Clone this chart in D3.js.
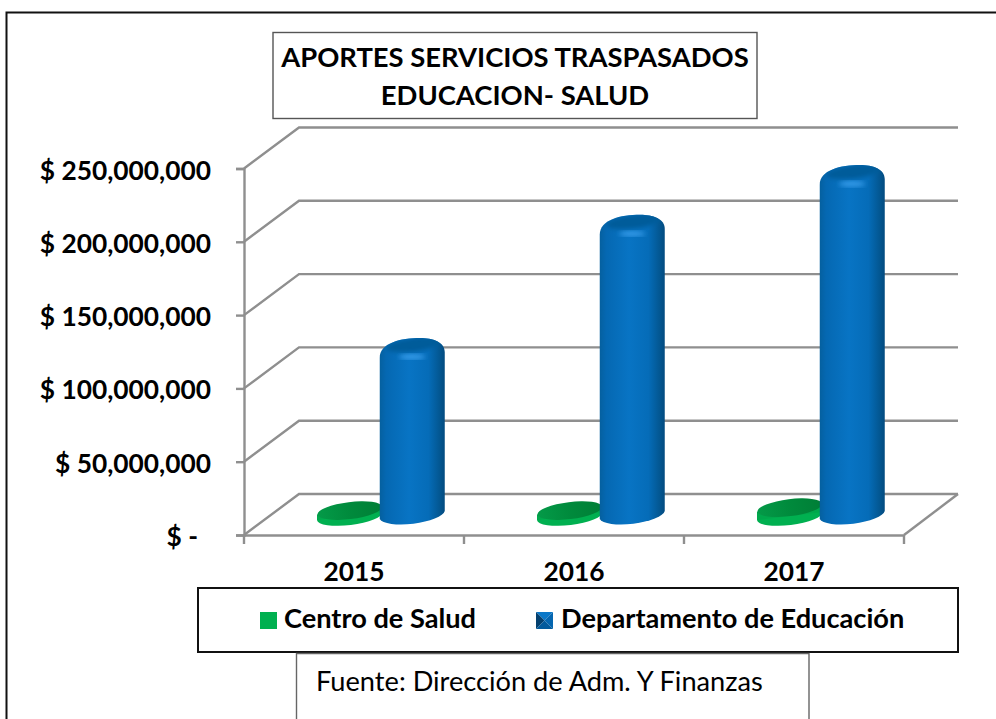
<!DOCTYPE html>
<html>
<head>
<meta charset="utf-8">
<script src="https://cdn.jsdelivr.net/npm/d3@7"></script>
<style>
  html, body { margin: 0; padding: 0; background: #fff; overflow: hidden; }
  text { font-family: Lato, "Open Sans", sans-serif; fill: #000; }
  .bold { font-weight: 700; }
</style>
</head>
<body>
<svg id="chart" width="996" height="719"></svg>
<script>
// values
var years = ['2015', '2016', '2017'];
var seriesNames = ['Centro de Salud', 'Departamento de Educación'];
var centroSalud = [3000000, 3000000, 5000000];
var educacion = [114000000, 198000000, 232000000];
var yTicks = [0, 50000000, 100000000, 150000000, 200000000, 250000000];
var titleLines = ['APORTES SERVICIOS TRASPASADOS', 'EDUCACION- SALUD'];
var sourceText = 'Fuente: Dirección de Adm. Y Finanzas';

var svg = d3.select('#chart');
var gray = '#8f8f8f';

// front plane of the 3d box and how far the back wall is pushed
var left = 244, right = 904, bottom = 535, top_ = 168.5;
var depthX = 55, depthY = -41;
var barDepthX = 27, barDepthY = -20;
var rx = 33, tilt = -7;

var y = d3.scaleLinear().domain([0, 250000000]).range([bottom, top_]);
var x = d3.scaleBand().domain(years).range([left, right]);
var xInner = d3.scaleBand().domain(seriesNames).range([47.5, 172.5]);

// Gradients and blur
var defs = svg.append('defs');

function hGradient(id, stops) {
  var g = defs.append('linearGradient').attr('id', id)
    .attr('x1', '0%').attr('x2', '100%').attr('y1', '0%').attr('y2', '0%');
  stops.forEach(function(s) {
    g.append('stop').attr('offset', s[0]).attr('stop-color', s[1]);
  });
}
hGradient('blueBody', [['0%', '#05609f'], ['10%', '#0568b2'], ['45%', '#0874c4'], ['75%', '#056cb8'], ['92%', '#035792'], ['100%', '#034b80']]);
hGradient('greenTop', [['0%', '#049a48'], ['50%', '#008a3c'], ['100%', '#007e36']]);

defs.append('filter').attr('id', 'soft').append('feGaussianBlur').attr('stdDeviation', 2);
defs.append('filter').attr('id', 'softer').append('feGaussianBlur').attr('stdDeviation', 2.6);

// outer frame, only top and left are visible in the crop
svg.append('path')
  .attr('d', 'M6.5,719V12.5H996')
  .attr('fill', 'none').attr('stroke', '#111').attr('stroke-width', 2);

// Walls and floor
var grid = svg.append('g');
yTicks.forEach(function(t) {
  var yy = y(t);
  grid.append('path')
    .attr('d', 'M' + left + ',' + yy + 'L' + (left + depthX) + ',' + (yy + depthY) + 'H' + (right + depthX - 1))
    .attr('fill', 'none').attr('stroke', gray).attr('stroke-width', 2.4);
});
grid.append('path')
  .attr('d', 'M' + right + ',' + bottom + 'L' + (right + depthX - 1) + ',' + (bottom + depthY))
  .attr('fill', 'none').attr('stroke', gray).attr('stroke-width', 2.4);

// Axes
var yAxis = d3.axisLeft(y)
  .tickValues(yTicks)
  .tickSize(8)
  .tickPadding(25)
  .tickFormat(function(d) { return d === 0 ? '$ -' : '$ ' + d3.format(',')(d); });

var yG = svg.append('g').attr('transform', 'translate(' + left + ',0)').call(yAxis);

var xAxis = d3.axisBottom(x).tickSize(0).tickPadding(0);
var xG = svg.append('g').attr('transform', 'translate(0,' + bottom + ')').call(xAxis);

[yG, xG].forEach(function(g) {
  g.selectAll('.domain').attr('stroke', gray).attr('stroke-width', 2.4);
  g.selectAll('line').attr('stroke', gray).attr('stroke-width', 2.4);
  g.selectAll('text').attr('class', 'bold').attr('font-family', null).style('font-size', '26.3px').attr('fill', '#000');
});
yG.selectAll('text').attr('dy', '0.4em');
// the zero label sits further left in the accounting format
yG.selectAll('.tick').filter(function(d) { return d === 0; }).select('text').attr('dx', -13);
xG.selectAll('text').attr('y', 46).attr('dy', 0);

// tick marks under the category axis
xG.selectAll('.xmark')
  .data([left].concat(years.map(function(c) { return x(c) + x.bandwidth(); })))
  .enter().append('line').attr('class', 'xmark')
  .attr('x1', function(d) { return d; }).attr('x2', function(d) { return d; })
  .attr('y1', 0).attr('y2', 9)
  .attr('stroke', gray).attr('stroke-width', 2.4);

// Bars
function greenDisc(g, cx, value) {
  var yBase = y(0) + barDepthY;
  var yTop = y(value) + barDepthY;
  var dy = rx * Math.sin(tilt * Math.PI / 180);
  var dx = rx * Math.cos(tilt * Math.PI / 180);
  var ry = 9;
  g.append('ellipse')
    .attr('cx', cx).attr('cy', yBase + 1)
    .attr('rx', rx).attr('ry', ry)
    .attr('transform', 'rotate(' + tilt + ' ' + cx + ' ' + (yBase + 1) + ')')
    .attr('fill', '#00b050');
  g.append('path')
    .attr('d', 'M' + (cx - dx) + ',' + (yBase + 1 - dy) + 'L' + (cx - dx) + ',' + (yTop - dy)
      + 'L' + (cx + dx) + ',' + (yTop + dy) + 'L' + (cx + dx) + ',' + (yBase + 1 + dy) + 'Z')
    .attr('fill', '#00a84c');
  g.append('ellipse')
    .attr('cx', cx).attr('cy', yTop)
    .attr('rx', rx - 0.5).attr('ry', ry - 0.5)
    .attr('transform', 'rotate(' + tilt + ' ' + cx + ' ' + yTop + ')')
    .attr('fill', 'url(#greenTop)');
}

var clipCount = 0;
function blueCylinder(g, cx, value) {
  var yBase = y(0) + barDepthY;
  var yTop = y(value) + barDepthY;
  var dy = rx * Math.sin(tilt * Math.PI / 180);
  var dx = 32.5;
  // rounded shoulder, higher on the right like the original
  var d = 'M' + (cx - dx) + ',' + (yBase - dy)
    + 'A' + rx + ' 10 ' + tilt + ' 0 0 ' + (cx + dx) + ',' + (yBase + dy)
    + 'L' + (cx + dx) + ',' + (yTop + 4)
    + 'C' + (cx + dx) + ',' + (yTop - 6) + ' ' + (cx + dx - 12) + ',' + (yTop - 10) + ' ' + (cx + 8) + ',' + (yTop - 10)
    + 'C' + (cx - 12) + ',' + (yTop - 10) + ' ' + (cx - dx) + ',' + (yTop - 5) + ' ' + (cx - dx) + ',' + (yTop + 10) + 'Z';
  var id = 'barClip' + (clipCount++);
  defs.append('clipPath').attr('id', id).append('path').attr('d', d);
  g.append('path').attr('d', d).attr('fill', 'url(#blueBody)');
  // darker lid and the light band under it, kept inside the shape
  var inner = g.append('g').attr('clip-path', 'url(#' + id + ')');
  inner.append('ellipse')
    .attr('cx', cx + 2).attr('cy', yTop - 3)
    .attr('rx', rx - 5).attr('ry', 7)
    .attr('transform', 'rotate(' + tilt + ' ' + cx + ' ' + yTop + ')')
    .attr('fill', '#035c9a').attr('filter', 'url(#soft)');
  inner.append('ellipse')
    .attr('cx', cx).attr('cy', yTop + 9)
    .attr('rx', 13).attr('ry', 2.6)
    .attr('fill', '#3a9fec').attr('filter', 'url(#softer)');
}

years.forEach(function(year, i) {
  var g = svg.append('g').attr('class', 'year');
  greenDisc(g, x(year) + xInner(seriesNames[0]) + xInner.bandwidth() / 2 + barDepthX, centroSalud[i]);
  blueCylinder(g, x(year) + xInner(seriesNames[1]) + xInner.bandwidth() / 2 + barDepthX, educacion[i]);
});

// Title box
svg.append('rect')
  .attr('x', 273).attr('y', 32.5).attr('width', 484).attr('height', 86)
  .attr('fill', '#fff').attr('stroke', '#555').attr('stroke-width', 1.4);
svg.selectAll('.title')
  .data(titleLines)
  .enter().append('text').attr('class', 'title bold')
  .attr('x', 515)
  .attr('y', function(d, i) { return 67 + i * 38; })
  .attr('text-anchor', 'middle')
  .style('font-size', '27.4px')
  .text(function(d) { return d; });

// Legend box
svg.append('rect')
  .attr('x', 198).attr('y', 588).attr('width', 760).attr('height', 64)
  .attr('fill', '#fff').attr('stroke', '#111').attr('stroke-width', 2);

svg.append('rect')
  .attr('x', 260).attr('y', 612).attr('width', 17).attr('height', 17)
  .attr('fill', '#00b050');

// blue swatch is a little pyramid
var sx = 473 + 63, sy = 612, ss = 17;
[
  ['#0b78c8', [[0, 0], [ss, 0], [ss / 2, ss / 2]]],
  ['#04406f', [[0, 0], [0, ss], [ss / 2, ss / 2]]],
  ['#0566b0', [[ss, 0], [ss, ss], [ss / 2, ss / 2]]],
  ['#035a9c', [[0, ss], [ss, ss], [ss / 2, ss / 2]]]
].forEach(function(tri) {
  svg.append('polygon')
    .attr('points', tri[1].map(function(p) { return (sx + p[0]) + ',' + (sy + p[1]); }).join(' '))
    .attr('fill', tri[0]);
});

svg.selectAll('.legendText')
  .data(seriesNames)
  .enter().append('text').attr('class', 'legendText bold')
  .attr('x', function(d, i) { return i === 0 ? 284 : 561; })
  .attr('y', 628)
  .style('font-size', '27.2px')
  .text(function(d) { return d; });

// Source box, runs off the bottom of the picture
svg.append('path')
  .attr('d', 'M296.5,719V653.5H809V719')
  .attr('fill', '#fff').attr('stroke', '#666').attr('stroke-width', 1.4);
svg.append('text')
  .attr('x', 316).attr('y', 691)
  .style('font-size', '27.2px')
  .text(sourceText);
</script>
</body>
</html>
